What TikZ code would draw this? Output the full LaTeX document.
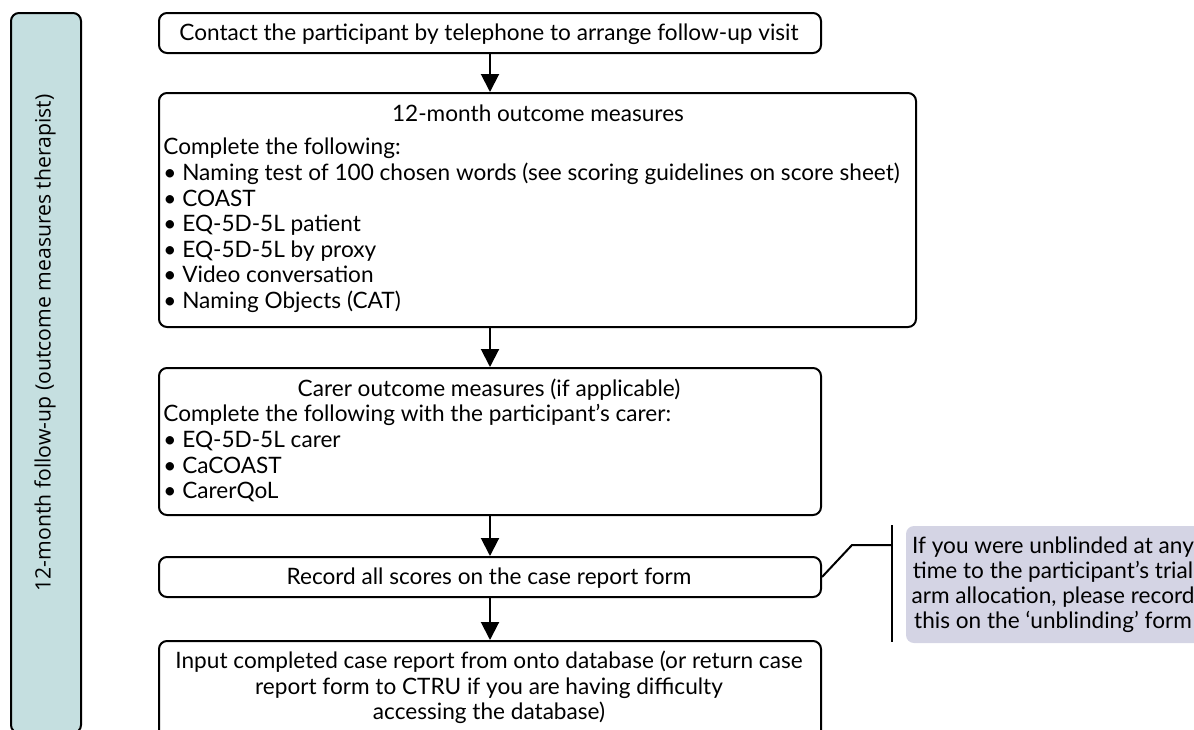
\documentclass[tikz,border=0pt]{standalone}
\usepackage{fontspec}
\setmainfont{Lato}
\newfontfamily\sidefont{Open Sans}
\usetikzlibrary{arrows.meta}
\definecolor{sidefill}{HTML}{C5DFE0}
\definecolor{notefill}{HTML}{D4D4E4}

\begin{document}
\begin{tikzpicture}[x=0.5pt,y=-0.5pt,
  stepbox/.style={draw=black, line width=1pt, rounded corners=4pt, inner sep=0pt, anchor=north west},
  flow/.style={-{Triangle[width=9pt,length=9pt]}, line width=1pt},
  txt/.style={font=\fontsize{11.3}{13}\selectfont, inner sep=0pt},
  line/.style={line width=1pt}]
\useasboundingbox (0,0) rectangle (1194,729);
\clip (0,0) rectangle (1194,729);

% phase label on the left
\node[stepbox, fill=sidefill, minimum width=35pt, minimum height=360pt] (side) at (10,12) {};
\node[txt, font=\sidefont\fontsize{10.6}{12}\selectfont, rotate=90] (sidelbl) at (45,343)
  {12-month follow-up (outcome measures therapist)};

% process boxes
\node[stepbox, minimum width=331pt, minimum height=20pt] (b1) at (158,12) {};
\node[stepbox, minimum width=378.5pt, minimum height=117pt] (b2) at (158,92) {};
\node[stepbox, minimum width=331pt, minimum height=73.5pt] (b3) at (158,367) {};
\node[stepbox, minimum width=331pt, minimum height=20pt] (b4) at (158,556) {};
\node[stepbox, minimum width=331pt, minimum height=60pt] (b5) at (158,640) {};

% box texts
\node[txt, anchor=base] (t1) at (489,40) {Contact the participant by telephone to arrange follow-up visit};

\node[txt, anchor=base] (t2a) at (538,121) {12-month outcome measures};
\node[txt, anchor=base west] (t2b) at (163,154) {Complete the following:};
\node[txt, anchor=base west] (t2c) at (163,180) {\textbullet\ Naming test of 100 chosen words (see scoring guidelines on score sheet)};
\node[txt, anchor=base west] (t2d) at (163,206) {\textbullet\ COAST};
\node[txt, anchor=base west] (t2e) at (163,231) {\textbullet\ EQ-5D-5L patient};
\node[txt, anchor=base west] (t2f) at (163,257) {\textbullet\ EQ-5D-5L by proxy};
\node[txt, anchor=base west] (t2g) at (163,282) {\textbullet\ Video conversation};
\node[txt, anchor=base west] (t2h) at (163,308) {\textbullet\ Naming Objects (CAT)};

\node[txt, anchor=base] (t3a) at (489,396) {Carer outcome measures (if applicable)};
\node[txt, anchor=base west] (t3b) at (163,421) {Complete the following with the participant’s carer:};
\node[txt, anchor=base west] (t3c) at (163,447) {\textbullet\ EQ-5D-5L carer};
\node[txt, anchor=base west] (t3d) at (163,473) {\textbullet\ CaCOAST};
\node[txt, anchor=base west] (t3e) at (163,498) {\textbullet\ CarerQoL};

\node[txt, anchor=base] (t4) at (489,584) {Record all scores on the case report form};

\node[txt, anchor=base] (t5a) at (489,668) {Input completed case report from onto database (or return case};
\node[txt, anchor=base] (t5b) at (489,694) {report form to CTRU if you are having difficulty};
\node[txt, anchor=base] (t5c) at (489,719) {accessing the database)};

% flow arrows
\draw[flow] (b1.south) -- (b1.south |- b2.north);
\draw[flow] (b1.south |- b2.south) -- (b1.south |- b3.north);
\draw[flow] (b3.south) -- (b4.north);
\draw[flow] (b4.south) -- (b5.north);

% note with bracket
\node[stepbox, draw=none, fill=notefill, minimum width=170pt, minimum height=58.5pt] (note) at (905,525) {};
\node[txt, anchor=base] (n1) at (1053,553) {If you were unblinded at any};
\node[txt, anchor=base] (n2) at (1053,578) {time to the participant’s trial};
\node[txt, anchor=base] (n3) at (1053,603) {arm allocation, please record};
\node[txt, anchor=base] (n4) at (1053,628) {this on the ‘unblinding’ form};
\coordinate (knee) at (852,545);
\coordinate (brk) at (892,545);
\coordinate (brktop) at (892,525);
\coordinate (brkbot) at (892,642);
\draw[line] (b4.east) -- (knee) -- (brk);
\draw[line] (brktop) -- (brkbot);
\end{tikzpicture}
\end{document}
